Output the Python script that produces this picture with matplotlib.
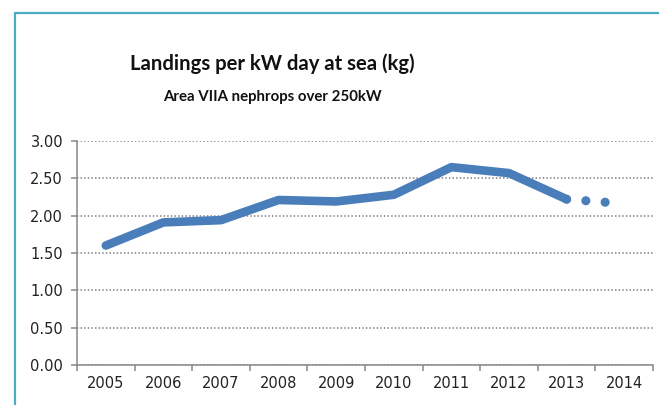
import matplotlib
matplotlib.use('Agg')
import matplotlib.pyplot as plt
from matplotlib.patches import Rectangle

# Data
years = ['2005', '2006', '2007', '2008', '2009', '2010', '2011', '2012', '2013', '2014']
landings = [1.60, 1.91, 1.94, 2.21, 2.19, 2.28, 2.65, 2.57, 2.22]   # 2005-2013 (actual)
projection = [2.22, 2.16]                                            # 2013-2014 (dotted)
y_ticks = [0.0, 0.5, 1.0, 1.5, 2.0, 2.5, 3.0]

line_color = '#4A7EBB'
grid_color = '#8C8C8C'
spine_color = '#888888'

plt.rcParams['lines.scale_dashes'] = False

fig = plt.figure(figsize=(6.59, 4.05), dpi=100)
fig.patch.set_facecolor('white')

# Light blue frame around the chart (extends past the right/bottom edge)
fig.patches.append(Rectangle((15 / 659, -0.05), 1.0, (405 - 13) / 405 + 0.05,
                             transform=fig.transFigure, fill=False,
                             edgecolor='#4BACC6', linewidth=1.6))

ax = fig.add_axes([77 / 659, 40 / 405, 576 / 659, 224 / 405])

x = list(range(len(years)))
ax.plot(x[:len(landings)], landings, color=line_color, linewidth=6.2,
        solid_capstyle='round', solid_joinstyle='round', zorder=3)
ax.plot(x[len(landings) - 1:], projection, color=line_color, linewidth=6.6,
        linestyle=(0, (0.01, 13.9)), dash_capstyle='round', zorder=3)

ax.set_xlim(-0.5, len(years) - 0.5)
ax.set_ylim(0, 3.0)
ax.set_yticks(y_ticks)
ax.set_yticklabels([f'{v:.2f}' for v in y_ticks])

# Category labels centred between boundary ticks
ax.set_xticks([i - 0.5 for i in range(len(years) + 1)])
ax.set_xticklabels([])
ax.set_xticks(x, minor=True)
ax.set_xticklabels(years, minor=True)
ax.tick_params(axis='x', which='major', length=4, width=1.1, color=spine_color)
ax.tick_params(axis='x', which='minor', length=0, pad=8, labelsize=10.5, labelcolor='#222222')
ax.tick_params(axis='y', length=4, width=1.1, color=spine_color, pad=6,
               labelsize=10.5, labelcolor='#222222')

ax.yaxis.grid(True, linestyle=(0, (1, 1.6)), linewidth=1.3, color=grid_color)
ax.set_axisbelow(True)

for side in ['top', 'right']:
    ax.spines[side].set_visible(False)
for side in ['left', 'bottom']:
    ax.spines[side].set_color(spine_color)
    ax.spines[side].set_linewidth(1.1)

title_font = ['Lato', 'DejaVu Sans']
fig.text(272 / 659, 1 - 64 / 405, 'Landings per kW day at sea (kg)', ha='center', va='center',
         fontsize=14.6, fontweight='bold', family=title_font, color='#111111')
fig.text(272 / 659, 1 - 97 / 405, 'Area VIIA nephrops over 250kW', ha='center', va='center',
         fontsize=10.8, fontweight='bold', family=title_font, color='#111111')

plt.savefig('out.png', dpi=100)
